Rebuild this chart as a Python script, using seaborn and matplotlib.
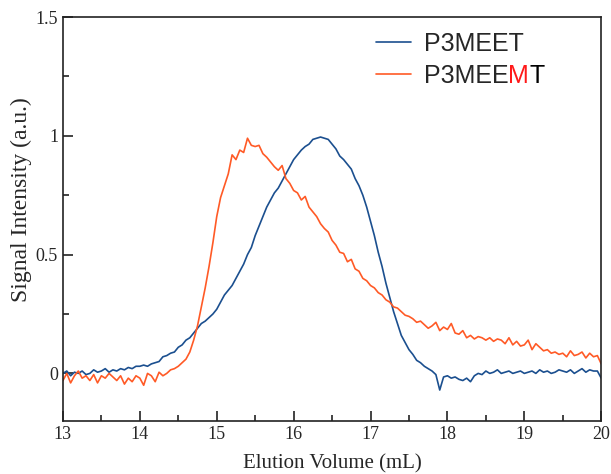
import numpy as np
import pandas as pd
import matplotlib
matplotlib.use('Agg')
import matplotlib.pyplot as plt
import seaborn as sns

# elution volume grid (mL), 0.05 mL steps
volumen = np.linspace(13, 20, 141)

p3meet = [
    0.00, 0.01, -0.01, 0.005, 0.0, 0.01, -0.005, 0.0, 0.015, 0.005,
    0.01, 0.02, 0.005, 0.015, 0.01, 0.02, 0.015, 0.025, 0.02, 0.03,
    0.03, 0.035, 0.03, 0.04, 0.045, 0.05, 0.07, 0.075, 0.085, 0.09,
    0.11, 0.12, 0.14, 0.15, 0.17, 0.19, 0.21, 0.22, 0.235, 0.25,
    0.27, 0.30, 0.33, 0.35, 0.37, 0.40, 0.43, 0.46, 0.50, 0.53,
    0.58, 0.62, 0.66, 0.70, 0.73, 0.76, 0.78, 0.81, 0.84, 0.87,
    0.90, 0.92, 0.94, 0.955, 0.965, 0.985, 0.99, 0.995, 0.99, 0.985,
    0.965, 0.945, 0.915, 0.90, 0.88, 0.86, 0.82, 0.79, 0.75, 0.70,
    0.64, 0.58, 0.51, 0.45, 0.38, 0.32, 0.26, 0.21, 0.16, 0.13,
    0.10, 0.08, 0.055, 0.045, 0.03, 0.02, 0.01, -0.005, -0.07, -0.015,
    -0.01, -0.02, -0.015, -0.025, -0.03, -0.02, -0.035, -0.01, 0.0, -0.005,
    0.01, 0.0, 0.005, 0.015, 0.0, 0.005, 0.01, 0.0, 0.005, 0.01,
    0.0, 0.005, 0.01, 0.0, 0.015, 0.005, 0.01, 0.0, 0.005, 0.015,
    0.01, 0.005, 0.015, 0.0, 0.01, 0.02, 0.005, 0.015, 0.01, 0.01,
    -0.02,
]

p3meemt = [
    -0.03, 0.0, -0.04, -0.01, 0.01, -0.02, -0.01, -0.03, -0.005, -0.04,
    -0.01, -0.02, 0.0, -0.015, -0.03, -0.01, -0.045, -0.02, -0.035, -0.01,
    -0.02, -0.05, 0.0, -0.01, -0.035, 0.005, -0.01, 0.0, 0.015, 0.02,
    0.03, 0.045, 0.06, 0.09, 0.14, 0.20, 0.28, 0.36, 0.45, 0.55,
    0.66, 0.74, 0.79, 0.84, 0.92, 0.90, 0.94, 0.93, 0.99, 0.96,
    0.955, 0.96, 0.925, 0.91, 0.89, 0.87, 0.855, 0.875, 0.82, 0.80,
    0.77, 0.76, 0.73, 0.745, 0.70, 0.68, 0.66, 0.63, 0.61, 0.595,
    0.56, 0.54, 0.51, 0.505, 0.47, 0.48, 0.44, 0.43, 0.40, 0.39,
    0.37, 0.36, 0.34, 0.33, 0.31, 0.30, 0.28, 0.275, 0.26, 0.245,
    0.24, 0.23, 0.215, 0.22, 0.205, 0.19, 0.20, 0.215, 0.18, 0.195,
    0.185, 0.21, 0.17, 0.165, 0.18, 0.15, 0.16, 0.145, 0.155, 0.15,
    0.14, 0.15, 0.135, 0.145, 0.14, 0.125, 0.15, 0.12, 0.135, 0.115,
    0.12, 0.14, 0.10, 0.125, 0.11, 0.095, 0.10, 0.085, 0.09, 0.08,
    0.085, 0.07, 0.095, 0.075, 0.08, 0.09, 0.065, 0.085, 0.07, 0.075,
    0.04,
]

sns.set_style("ticks")
plt.rcParams['font.family'] = ['Liberation Serif', 'DejaVu Serif']

fig = plt.figure(figsize=(6.11, 4.74), dpi=100)
ax = fig.add_axes([0.103, 0.112, 0.881, 0.852])

sns.lineplot(x=volumen, y=p3meet, ax=ax, color="#1b4f8f", lw=1.2, label="P3MEET")
sns.lineplot(x=volumen, y=p3meemt, ax=ax, color="#ff5a26", lw=1.2, label="P3MEEMT")

ax.set_xlim(13, 20)
ax.set_ylim(-0.2, 1.5)
ax.set_xticks(np.arange(13, 20.5, 1))
ax.set_xticks(np.arange(13.5, 20, 1), minor=True)
ax.set_yticks([0, 0.5, 1, 1.5])
ax.set_yticklabels(["0", "0.5", "1", "1.5"])
ax.set_yticks([0.25, 0.75, 1.25], minor=True)
ax.tick_params(which='both', direction='in', top=False, right=False,
               labelsize=13, color='#222222')
ax.tick_params(which='major', length=7, width=1.2)
ax.tick_params(which='minor', length=4, width=1.2)
for s in ax.spines.values():
    s.set_linewidth(1.2)
    s.set_color('#222222')

ax.set_xlabel("Elution Volume (mL)", fontsize=15, labelpad=8)
ax.set_ylabel("Signal Intensity (a.u.)", fontsize=17)
ax.yaxis.set_label_coords(-0.058, 0.547)

leg = ax.legend(loc='upper left', bbox_to_anchor=(0.582, 0.963), frameon=False,
                prop={'family': 'Liberation Sans', 'size': 18},
                handlelength=1.4, handletextpad=0.5, labelspacing=0.3,
                borderpad=0, borderaxespad=0)
for h in leg.get_lines():
    h.set_linewidth(1.2)

# red M in the second label
t2 = leg.get_texts()[1]
t2.set_text("P3MEE")
m = ax.annotate("M", xy=(1, 0), xycoords=t2, va='bottom', ha='left',
                color='#ff1a1a', family='Liberation Sans', fontsize=18, zorder=6)
ax.annotate("T", xy=(1, 0), xycoords=m, va='bottom', ha='left',
            color='black', family='Liberation Sans', fontsize=18, zorder=6)

fig.savefig("out.png", dpi=100)
